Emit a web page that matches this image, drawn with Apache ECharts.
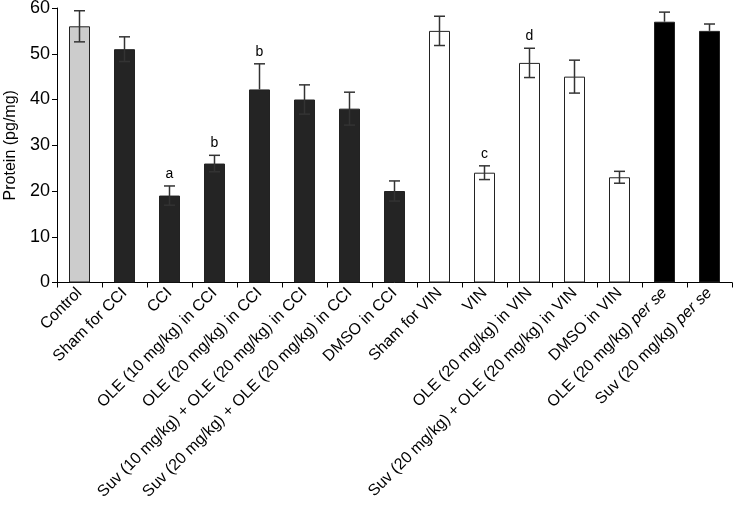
<!DOCTYPE html>
<html><head><meta charset="utf-8">
<script src="https://cdn.jsdelivr.net/npm/echarts@6/dist/echarts.min.js"></script>
<style>html,body{margin:0;padding:0;background:#fff}#c{width:735px;height:514px}</style>
</head><body><div id="c"></div>
<script>
var categories = ['Control','Sham for CCI','CCI','OLE (10 mg/kg) in CCI','OLE (20 mg/kg) in CCI',
  'Suv (10 mg/kg) + OLE (20 mg/kg) in CCI','Suv (20 mg/kg) + OLE (20 mg/kg) in CCI','DMSO in CCI',
  'Sham for VIN','VIN','OLE (20 mg/kg) in VIN','Suv (20 mg/kg) + OLE (20 mg/kg) in VIN','DMSO in VIN',
  'OLE (20 mg/kg) per se','Suv (20 mg/kg) per se'];
var values = [56, 51, 19, 26, 42.2, 40, 38, 20, 55, 24, 48, 45, 23, 57, 55];
var errUp  = [3.4, 2.7, 2.1, 1.8, 5.6, 3.2, 3.6, 2.2, 3.2, 1.5, 3.2, 3.6, 1.3, 2.1, 1.5];
var errDown= [3.4, 2.7, 2.1, 1.8, 0,   3.2, 3.6, 2.2, 3.2, 1.5, 3.2, 3.6, 1.3, 0,   0];
var letters= ['', '', 'a', 'b', 'b', '', '', '', '', 'c', 'd', '', '', '', ''];
var groups = ['control','cci','cci','cci','cci','cci','cci','cci','vin','vin','vin','vin','vin','perse','perse'];
var yTicks = [0, 10, 20, 30, 40, 50, 60];

var fillByGroup = {control:'#cccccc', cci:'#242424', vin:'#ffffff', perse:'#000000'};
var font = 'Liberation Sans, Arial, Helvetica, sans-serif';

var chart = echarts.init(document.getElementById('c'), null, {renderer:'canvas'});
chart.setOption({
  animation:false,
  grid:{left:57, top:8, right:3, bottom:231.5, containLabel:false, outerBoundsMode:'none'},
  xAxis:{
    type:'category', data:categories,
    axisLine:{lineStyle:{color:'#000', width:1}},
    axisTick:{show:true, alignWithLabel:false, length:5, inside:false, lineStyle:{color:'#000'}},
    axisLabel:{rotate:45, interval:0, fontSize:16, color:'#000', fontFamily:font, margin:8,
      formatter:function(v){
        if (v.indexOf('per se')>=0) return v.replace(' per se','') + ' {i|per se}';
        return v;
      },
      rich:{i:{fontStyle:'italic', fontSize:16, color:'#000', fontFamily:font}}
    }
  },
  yAxis:{
    type:'value', min:yTicks[0], max:yTicks[yTicks.length-1], interval:10,
    name:'Protein (pg/mg)', nameLocation:'middle', nameGap:37, nameRotate:90,
    nameTextStyle:{fontSize:16, color:'#000', fontFamily:font},
    axisLine:{show:true, lineStyle:{color:'#000', width:1}},
    axisTick:{show:true, length:5, lineStyle:{color:'#000'}},
    axisLabel:{fontSize:18, color:'#000', fontFamily:font, margin:7},
    splitLine:{show:false}
  },
  series:[
    {
      type:'bar', barWidth:21,
      data: values.map(function(v,i){
        return {value:v, itemStyle:{color:fillByGroup[groups[i]], borderColor:'#222', borderWidth:1}};
      })
    },
    {
      type:'custom', z:5,
      data: values.map(function(v,i){ return [i, v, errUp[i], errDown[i]]; }),
      renderItem:function(params, api){
        var i = api.value(0), v = api.value(1), up = api.value(2), dn = api.value(3);
        var top = api.coord([i, v+up]);
        var bot = api.coord([i, v-dn]);
        var x = top[0], hw = 5.5;
        var style = {stroke:'#333', lineWidth:1.5};
        var children = [
          {type:'line', shape:{x1:x, y1:top[1], x2:x, y2:bot[1]}, style:style},
          {type:'line', shape:{x1:x-hw, y1:top[1], x2:x+hw, y2:top[1]}, style:style}
        ];
        if (dn > 0) children.push({type:'line', shape:{x1:x-hw, y1:bot[1], x2:x+hw, y2:bot[1]}, style:style});
        var L = letters[params.dataIndex];
        if (L) children.push({type:'text', style:{text:L, x:x, y:top[1]-5, textAlign:'center', textVerticalAlign:'bottom',
          fontSize:14, fill:'#000', fontFamily:font}});
        return {type:'group', children:children};
      }
    }
  ]
});
</script></body></html>
